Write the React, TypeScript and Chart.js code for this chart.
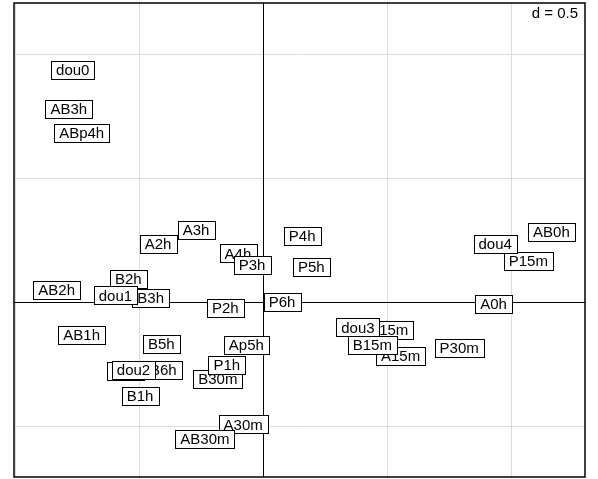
import React, { useEffect, useRef } from "react";
import { Chart, registerables } from "chart.js";
Chart.register(...registerables);

const labels = [
  "A0h", "A15m", "A30m", "A1h", "A2h", "A3h", "A4h", "Ap5h",
  "AB0h", "AB15m", "AB30m", "AB1h", "AB2h", "AB3h", "ABp4h",
  "B15m", "B30m", "B1h", "B2h", "B3h", "B5h", "B6h",
  "P15m", "P30m", "P1h", "P2h", "P3h", "P4h", "P5h", "P6h",
  "dou0", "dou1", "dou2", "dou3", "dou4",
];
const xValues = [
  0.931, 0.556, -0.079, -0.554, -0.422, -0.269, -0.100, -0.066,
  1.164, 0.488, -0.233, -0.730, -0.831, -0.782, -0.730,
  0.442, -0.181, -0.495, -0.542, -0.452, -0.409, -0.401,
  1.071, 0.792, -0.145, -0.151, -0.043, 0.159, 0.196, 0.078,
  -0.766, -0.594, -0.521, 0.384, 0.9375,
];
const yValues = [
  -0.008, -0.219, -0.495, -0.279, 0.234, 0.292, 0.196, -0.175,
  0.281, -0.112, -0.554, -0.132, 0.050, 0.779, 0.683,
  -0.173, -0.3125, -0.381, 0.094, 0.017, -0.168, -0.273,
  0.166, -0.185, -0.255, -0.023, 0.148, 0.268, 0.142, 0.001,
  0.938, 0.026, -0.276, -0.103, 0.233,
];
const gridTicks = [-1, -0.5, 0, 0.5, 1];
const xRange = [-1.003, 1.2996];
const yRange = [-0.707, 1.207];
const gridLegend = "d = 0.5";

const FONT = '15px "Liberation Sans", Arial, Helvetica, sans-serif';

const labelPlugin = {
  id: "slabel",
  afterDatasetsDraw(chart: any) {
    const ctx = chart.ctx as CanvasRenderingContext2D;
    const xs = chart.scales.x;
    const ys = chart.scales.y;
    const a = chart.chartArea;
    ctx.save();
    ctx.fillStyle = "#fff";
    ctx.fillRect(a.left, a.top, a.right - a.left, a.bottom - a.top);
    // grid
    ctx.lineWidth = 1;
    ctx.strokeStyle = "#dcdcdc";
    gridTicks.forEach((v) => {
      if (v === 0) return;
      const px = Math.round(xs.getPixelForValue(v)) + 0.5;
      if (px > a.left + 1 && px < a.right - 1) {
        ctx.beginPath(); ctx.moveTo(px, a.top); ctx.lineTo(px, a.bottom); ctx.stroke();
      }
      const py = Math.round(ys.getPixelForValue(v)) + 0.5;
      if (py > a.top + 1 && py < a.bottom - 1) {
        ctx.beginPath(); ctx.moveTo(a.left, py); ctx.lineTo(a.right, py); ctx.stroke();
      }
    });
    // axes
    ctx.strokeStyle = "#000";
    const x0 = Math.round(xs.getPixelForValue(0)) + 0.5;
    const y0 = Math.round(ys.getPixelForValue(0)) + 0.5;
    ctx.beginPath(); ctx.moveTo(x0, a.top); ctx.lineTo(x0, a.bottom); ctx.stroke();
    ctx.beginPath(); ctx.moveTo(a.left, y0); ctx.lineTo(a.right, y0); ctx.stroke();
    // labels
    ctx.font = FONT;
    ctx.textAlign = "center";
    ctx.textBaseline = "middle";
    labels.forEach((lab, i) => {
      const px = xs.getPixelForValue(xValues[i]);
      const py = ys.getPixelForValue(yValues[i]);
      const w = ctx.measureText(lab).width + 10;
      const h = 18;
      const l = Math.round(px - w / 2) + 0.5;
      const t = Math.round(py - h / 2) + 0.5;
      ctx.fillStyle = "#fff";
      ctx.fillRect(l, t, Math.round(w), h);
      ctx.strokeStyle = "#000";
      ctx.strokeRect(l, t, Math.round(w), h);
      ctx.fillStyle = "#000";
      ctx.fillText(lab, px, py + 1);
    });
    // legend d = 0.5
    const tw = ctx.measureText(gridLegend).width;
    ctx.fillStyle = "#fff";
    ctx.fillRect(a.right - tw - 10, a.top + 1, tw + 9, 19);
    ctx.fillStyle = "#000";
    ctx.textAlign = "right";
    ctx.fillText(gridLegend, a.right - 7, a.top + 11);
    // frame
    ctx.strokeStyle = "#000";
    ctx.lineWidth = 1.5;
    ctx.strokeRect(a.left, a.top, a.right - a.left, a.bottom - a.top);
    ctx.restore();
  },
};

export default function App() {
  const ref = useRef<HTMLCanvasElement>(null);
  useEffect(() => {
    if (!ref.current) return;
    const chart = new Chart(ref.current, {
      type: "scatter",
      data: {
        datasets: [
          {
            data: labels.map((_, i) => ({ x: xValues[i], y: yValues[i] })),
            pointRadius: 0,
          },
        ],
      },
      options: {
        animation: false,
        responsive: false,
        devicePixelRatio: 1,
        layout: { padding: { left: 14, top: 3, right: 13, bottom: 2 } },
        plugins: { legend: { display: false }, tooltip: { enabled: false } },
        scales: {
          x: { type: "linear", display: false, min: xRange[0], max: xRange[1] },
          y: { type: "linear", display: false, min: yRange[0], max: yRange[1] },
        },
      },
      plugins: [labelPlugin],
    });
    return () => chart.destroy();
  }, []);
  return (
    <div style={{ position: "fixed", left: 0, top: 0, width: 598, height: 479, background: "#fff" }}>
      <canvas ref={ref} width={598} height={479} style={{ display: "block" }} />
    </div>
  );
}
